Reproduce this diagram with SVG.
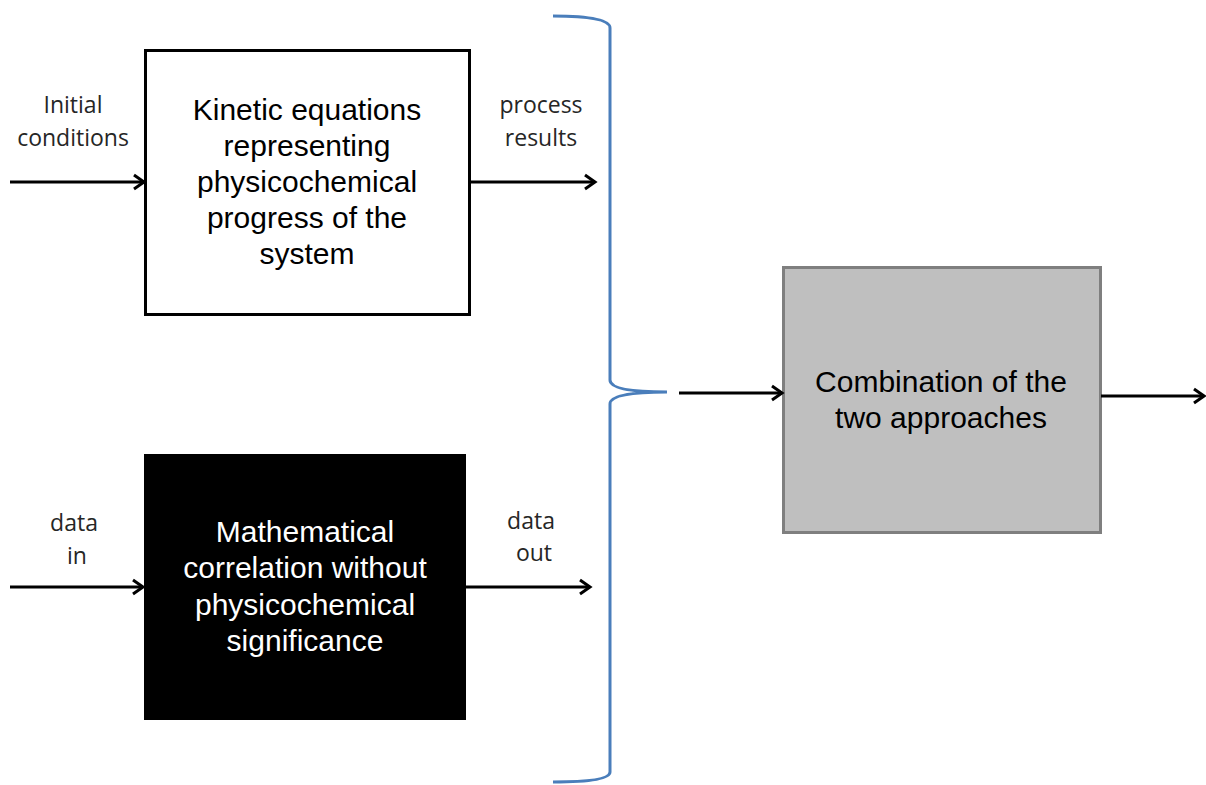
<svg xmlns="http://www.w3.org/2000/svg" width="1206" height="785" viewBox="0 0 1206 785">
<style>
.box{stroke-width:3}
.bt{font-family:"Liberation Sans",Arial,sans-serif;font-size:30px;text-anchor:middle}
.lb{font-family:"Open Sans","Liberation Sans",sans-serif;font-size:23px;fill:#262626;text-anchor:middle}
.cn{stroke:#000;stroke-width:3;fill:none;marker-end:url(#ah)}
</style>
<defs>
<marker id="ah" markerUnits="userSpaceOnUse" markerWidth="20" markerHeight="20" refX="15" refY="10" orient="auto">
<path d="M5,3 L15,10 L5,17" fill="none" stroke="#000" stroke-width="3"/>
</marker>
</defs>
<rect width="1206" height="785" fill="#fff"/>
<g id="kinetic">
<rect class="box" x="145.5" y="50.5" width="324" height="264" fill="#fff" stroke="#000"/>
<text class="bt" fill="#000"><tspan x="307" y="120">Kinetic equations</tspan><tspan x="307" y="156">representing</tspan><tspan x="307" y="192">physicochemical</tspan><tspan x="307" y="228">progress of the</tspan><tspan x="307" y="264">system</tspan></text>
</g>
<g id="math">
<rect x="144" y="454" width="322" height="266" fill="#000"/>
<text class="bt" fill="#fff"><tspan x="305" y="542">Mathematical</tspan><tspan x="305" y="578">correlation without</tspan><tspan x="305" y="615">physicochemical</tspan><tspan x="305" y="651">significance</tspan></text>
</g>
<g id="combination">
<rect class="box" x="783.5" y="267.5" width="317" height="265" fill="#bfbfbf" stroke="#7f7f7f"/>
<text class="bt" fill="#000"><tspan x="941" y="392">Combination of the</tspan><tspan x="941" y="428">two approaches</tspan></text>
</g>
<g id="brace">
<path d="M553,16 Q610,16 610,28 L610,380 Q610,392 667,392 Q610,392 610,404 L610,772 Q610,782 553,782" fill="none" stroke="#4a7ebb" stroke-width="3"/>
</g>
<g id="labels">
<text class="lb"><tspan x="73" y="113">Initial</tspan><tspan x="73" y="146">conditions</tspan></text>
<text class="lb"><tspan x="541" y="113">process</tspan><tspan x="541" y="146">results</tspan></text>
<text class="lb"><tspan x="74" y="531">data</tspan><tspan x="77" y="564">in</tspan></text>
<text class="lb"><tspan x="531" y="529">data</tspan><tspan x="534" y="561">out</tspan></text>
</g>
<g id="connectors">
<path class="cn" d="M10,182 L144,182"/>
<path class="cn" d="M470,182 L595,182"/>
<path class="cn" d="M10,587 L143,587"/>
<path class="cn" d="M466,587 L590,587"/>
<path class="cn" d="M679,393 L782,393"/>
<path class="cn" d="M1101,396 L1204,396"/>
</g>
</svg>
